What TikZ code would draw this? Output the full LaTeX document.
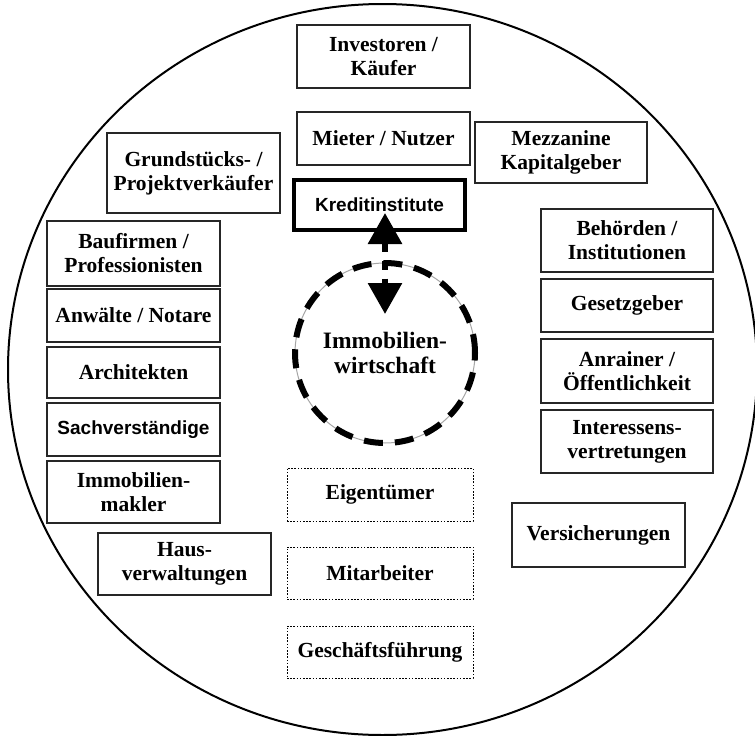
\documentclass[tikz,border=0pt]{standalone}
\usepackage{fontspec}
\setmainfont{Liberation Serif}
\newfontfamily\sansfont{Liberation Sans}
\usetikzlibrary{arrows.meta}
\tikzset{
  box/.style={draw=black!85, line width=1.3pt, fill=white, align=center, inner sep=2pt, outer sep=0pt,
    font=\fontsize{21.5}{24}\selectfont\bfseries, text=black},
  sbox/.style={box, font=\fontsize{19}{22}\selectfont\sansfont\bfseries},
  dbox/.style={box, dash pattern=on 1.6pt off 1.6pt, line width=1pt, draw=black},
}
\begin{document}
\begin{tikzpicture}[x=1pt,y=-1pt]
\useasboundingbox (0,0) rectangle (755,736);
\fill[white] (0,0) rectangle (755,736);
\draw[line width=2pt] (382.5,369.5) ellipse [x radius=374.5, y radius=365.5];

\node[box, minimum width=173pt, minimum height=63pt] (inv) at (383.5,56.5) {Investoren /\\Käufer};
\node[box, minimum width=173pt, minimum height=53pt] (mieter) at (383.5,138.5) {Mieter / Nutzer};
\node[box, minimum width=172pt, minimum height=61pt] (mezz) at (561,152.5) {Mezzanine\\Kapitalgeber};
\node[box, minimum width=173pt, minimum height=80pt] (grund) at (193.5,173) {Grundstücks- /\\Projektverkäufer};
\node[sbox, draw=black, line width=4.5pt, minimum width=171pt, minimum height=50pt] (kredit) at (379.5,205) {Kreditinstitute};

\node[box, minimum width=173pt, minimum height=65pt] (bau) at (133.5,253.5) {Baufirmen /\\Professionisten};
\node[box, minimum width=173pt, minimum height=53pt] (anw) at (133.5,315.5) {Anwälte / Notare};
\node[box, minimum width=173pt, minimum height=51pt] (arch) at (133.5,372.5) {Architekten};
\node[sbox, minimum width=173pt, minimum height=53pt] (sach) at (133.5,429.5) {Sachverständige};
\node[box, minimum width=173pt, minimum height=62pt] (makler) at (133.5,492) {Immobilien-\\makler};
\node[box, minimum width=173pt, minimum height=62pt] (haus) at (184.5,564) {Haus-\\verwaltungen};

\node[box, minimum width=172pt, minimum height=63pt] (beh) at (627,240.5) {Behörden /\\Institutionen};
\node[box, minimum width=172pt, minimum height=53pt] (gesetz) at (627,305.5) {Gesetzgeber};
\node[box, minimum width=172pt, minimum height=64pt] (anr) at (627,371) {Anrainer /\\Öffentlichkeit};
\node[box, minimum width=172pt, minimum height=63pt] (inter) at (627,441.5) {Interessens-\\vertretungen};
\node[box, minimum width=173pt, minimum height=64pt] (vers) at (598.5,535) {Versicherungen};

\node[dbox, minimum width=186pt, minimum height=53pt] (eigen) at (380,494.5) {Eigentümer};
\node[dbox, minimum width=186pt, minimum height=52pt] (mitarb) at (380,573) {Mitarbeiter};
\node[dbox, minimum width=186pt, minimum height=52pt] (gf) at (380,652) {Geschäftsführung};

\node[circle, draw=black!35, line width=1pt, fill=white, minimum size=180pt, inner sep=0pt, outer sep=0pt,
  align=center, font=\fontsize{23.5}{25}\selectfont\bfseries,
  postaction={draw=black, line width=6pt, dash pattern=on 19pt off 12pt}] (immo) at (385,353)
  {Immobilien-\\wirtschaft};

\draw[line width=6pt, dash pattern=on 9pt off 9pt,
  {Triangle[width=33pt,length=31pt]}-{Triangle[width=33pt,length=31pt]},
  shorten <=-17pt, shorten >=-51pt] (kredit.south -| immo.north) -- (immo.north);
\end{tikzpicture}
\end{document}
